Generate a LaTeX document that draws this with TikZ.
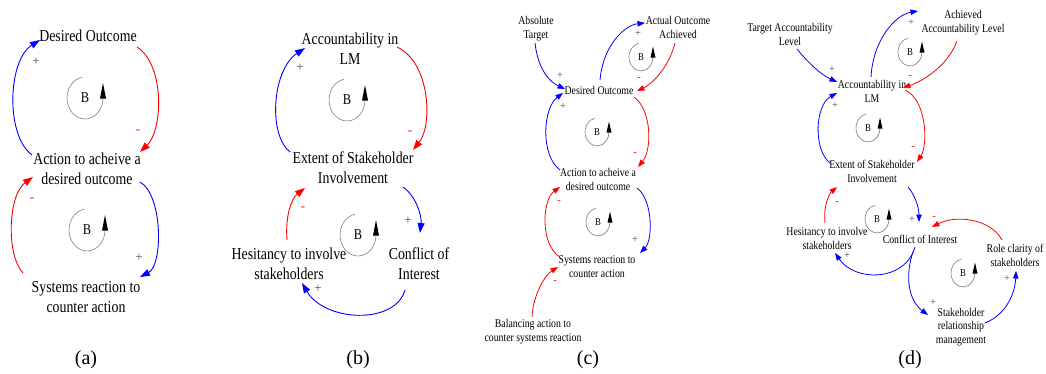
\documentclass[tikz,border=0pt]{standalone}
\usepackage{fontspec}
\usepackage{graphicx}
\setmainfont{Liberation Serif}
\usetikzlibrary{arrows.meta,calc}
\newcommand{\sq}[1]{\scalebox{0.83}[1]{\begin{tabular}{@{}c@{}}#1\end{tabular}}}
\newcommand{\sqs}[1]{\scalebox{0.83}[1]{#1}}
\tikzset{
 lbl/.style={font=\fontsize{16.7}{20}\selectfont, inner sep=0pt},
 lbs/.style={font=\fontsize{11.8}{13.5}\selectfont, inner sep=0pt},
 parr/.style={blue, line width=0.9pt, -{Triangle[length=10pt,width=7pt]}},
 narr/.style={red, line width=0.9pt, -{Triangle[length=10pt,width=7pt]}},
 parrs/.style={blue, line width=0.8pt, -{Triangle[length=7.5pt,width=5.5pt]}},
 narrs/.style={red, line width=0.8pt, -{Triangle[length=7.5pt,width=5.5pt]}},
 sp/.style={inner sep=0pt, text=black!70, font=\fontsize{13}{13}\selectfont},
 sn/.style={inner sep=0pt, text=red, font=\fontsize{13}{13}\selectfont},
 sps/.style={inner sep=0pt, text=black!70, font=\fontsize{10.5}{10.5}\selectfont},
 sns/.style={inner sep=0pt, text=red, font=\fontsize{10.5}{10.5}\selectfont},
 loopc/.style={gray, line width=0.6pt},
 bbig/.style={inner sep=0pt, font=\fontsize{15}{15}\selectfont},
 bsmall/.style={inner sep=0pt, font=\fontsize{10.5}{10.5}\selectfont},
 panel/.style={inner sep=0pt, font=\fontsize{20}{20}\selectfont}
}
\newcommand{\bigloop}[3]{%
 \node[bbig] (#1) at (#2,#3) {\sqs{B}};
 \draw[loopc] ($(#1)+(-3.1,-20.7)$) arc[start angle=-100,end angle=-360,x radius=18,y radius=21];
 \fill ($(#1)+(15,0.5)$) -- ($(#1)+(21,0.5)$) -- ($(#1)+(18,-15)$) -- cycle;}
\newcommand{\smallloop}[3]{%
 \node[bsmall] (#1) at (#2,#3) {\sqs{B}};
 \draw[loopc] ($(#1)+(-2.1,-13.8)$) arc[start angle=-100,end angle=-360,x radius=12,y radius=14];
 \fill ($(#1)+(9.5,0.5)$) -- ($(#1)+(14.5,0.5)$) -- ($(#1)+(12,-10.5)$) -- cycle;}
\begin{document}
\begin{tikzpicture}[x=1pt,y=-1pt]
\fill[white] (0,0) rectangle (1046,373);
\useasboundingbox (0,0) rectangle (1046,373);

% ---------------- (a)
\node[lbl] (aDO) at (88,36) {\sqs{Desired Outcome}};
\node[lbl] (aAct) at (87,170) {\sq{Action to acheive a\\desired outcome}};
\node[lbl] (aSys) at (86,298) {\sq{Systems reaction to\\counter action}};
\bigloop{aB1}{85}{98}
\bigloop{aB2}{87}{230}
\draw[parr] ($(aAct)+(-55,-15)$) .. controls (5,135) and (8,60) .. ($(aDO)+(-48,4)$);
\draw[narr] ($(aDO)+(49,11)$) .. controls (165,65) and (163,130) .. ($(aAct)+(53,-18)$);
\draw[narr] ($(aSys)+(-63,-25)$) .. controls (6,255) and (8,195) .. ($(aAct)+(-54,7)$);
\draw[parr] ($(aAct)+(53,12)$) .. controls (163,195) and (163,265) .. ($(aSys)+(54,-21)$);
\node[sp] (ap1) at (36,62) {+};
\node[sn] (an1) at (138,132) {-};
\node[sn] (an2) at (32,200) {-};
\node[sp] (ap2) at (139,258) {+};
\node[panel] (capa) at (86,360) {(a)};

% ---------------- (b)
\node[lbl] (bAcc) at (350,50) {\sq{Accountability in\\LM}};
\node[lbl] (bExt) at (353,169) {\sq{Extent of Stakeholder\\Involvement}};
\node[lbl] (bHes) at (289,265) {\sq{Hesitancy to involve\\stakeholders}};
\node[lbl] (bCon) at (419,265) {\sq{Conflict of\\Interest}};
\bigloop{bB1}{347}{100}
\bigloop{bB2}{358}{235}
\draw[parr] ($(bExt)+(-63,-17)$) .. controls (268,135) and (272,70) .. ($(bAcc)+(-45,-2)$);
\draw[narr] ($(bAcc)+(47,-3)$) .. controls (430,62) and (433,125) .. ($(bExt)+(60,-19)$);
\draw[parr] ($(bExt)+(50,18)$) .. controls (415,195) and (422,215) .. ($(bCon)+(1,-32)$);
\draw[parr] ($(bCon)+(-14,25)$) .. controls (395,325) and (325,322) .. ($(bHes)+(13,18)$);
\draw[narr] ($(bHes)+(-2,-25)$) .. controls (285,215) and (292,198) .. ($(bExt)+(-48,19)$);
\node[sp] (bp1) at (300,68) {+};
\node[sn] (bn1) at (410,133) {-};
\node[sp] (bp2) at (408,221) {+};
\node[sp] (bp3) at (318,289) {+};
\node[sn] (bn2) at (303,209) {-};
\node[panel] (capb) at (358,360) {(b)};

% ---------------- (c)
\node[lbs] (cAbs) at (536,29) {\sq{Absolute\\Target}};
\node[lbs] (cAch) at (678,29) {\sq{Actual Outcome\\Achieved}};
\node[lbs] (cDes) at (599,90) {\sqs{Desired Outcome}};
\node[lbs] (cAct) at (598,181) {\sq{Action to acheive a\\desired outcome}};
\node[lbs] (cSys) at (597,268) {\sq{Systems reaction to\\counter action}};
\node[lbs] (cBal) at (533,332) {\sq{Balancing action to\\counter systems reaction}};
\smallloop{cB0}{641}{57}
\smallloop{cB1}{597}{132}
\smallloop{cB2}{598}{222}
\draw[parrs] ($(cAbs)+(-1,14)$) .. controls (538,70) and (550,82) .. ($(cDes)+(-34,-1)$);
\draw[parrs] ($(cDes)+(1,-10)$) .. controls (603,45) and (625,25) .. ($(cAch)+(-33,-6)$);
\draw[narrs] ($(cAch)+(-3,14)$) .. controls (668,70) and (650,85) .. ($(cDes)+(38,1)$);
\draw[narrs] ($(cDes)+(35,7)$) .. controls (652,110) and (652,150) .. ($(cAct)+(40,-14)$);
\draw[parrs] ($(cAct)+(-38,-11)$) .. controls (540,155) and (543,108) .. ($(cDes)+(-36,3)$);
\draw[parrs] ($(cAct)+(39,7)$) .. controls (653,200) and (653,240) .. ($(cSys)+(43,-15)$);
\draw[narrs] ($(cSys)+(-37,-11)$) .. controls (540,245) and (542,200) .. ($(cAct)+(-38,6)$);
\draw[narrs] ($(cBal)+(-1,-15)$) .. controls (533,295) and (545,275) .. ($(cSys)+(-39,-1)$);
\node[sps] (cp1) at (560,76) {+};
\node[sps] (cp2) at (638,34) {+};
\node[sns] (cn1) at (639,79) {-};
\node[sns] (cn2) at (635,154) {-};
\node[sps] (cp3) at (563,107) {+};
\node[sps] (cp4) at (635,240) {+};
\node[sns] (cn3) at (559,202) {-};
\node[sns] (cn4) at (555,282) {-};
\node[panel] (capc) at (588,360) {(c)};

% ---------------- (d)
\node[lbs] (dTar) at (790,36) {\sq{Target Accountability\\Level}};
\node[lbs] (dAch) at (963,23) {\sq{Achieved\\Accountability Level}};
\node[lbs] (dAcc) at (872,93) {\sq{Accountability in\\LM}};
\node[lbs] (dExt) at (872,173) {\sq{Extent of Stakeholder\\Involvement}};
\node[lbs] (dHes) at (827,240) {\sq{Hesitancy to involve\\stakeholders}};
\node[lbs] (dCon) at (920,239) {\sqs{Conflict of Interest}};
\node[lbs] (dRol) at (1015,257) {\sq{Role clarity of\\stakeholders}};
\node[lbs] (dSrm) at (961,327) {\sq{Stakeholder\\relationship\\management}};
\smallloop{dB0}{910}{52}
\smallloop{dB1}{868}{128}
\smallloop{dB2}{877}{219}
\smallloop{dB3}{963}{273}
\draw[parrs] ($(dTar)+(7,13)$) .. controls (810,65) and (822,75) .. ($(dAcc)+(-35,-11)$);
\draw[parrs] ($(dAcc)+(-1,-16)$) .. controls (873,40) and (895,15) .. ($(dAch)+(-45,-12)$);
\draw[narrs] ($(dAch)+(-6,18)$) .. controls (948,65) and (925,80) .. ($(dAcc)+(31,-5)$);
\draw[narrs] ($(dAcc)+(33,-3)$) .. controls (927,100) and (928,145) .. ($(dExt)+(45,-11)$);
\draw[parrs] ($(dExt)+(-42,-10)$) .. controls (813,150) and (815,105) .. ($(dAcc)+(-35,0)$);
\draw[parrs] ($(dExt)+(36,14)$) .. controls (915,195) and (919,208) .. ($(dCon)+(-1,-17)$);
\draw[narrs] ($(dHes)+(-2,-17)$) .. controls (823,205) and (830,193) .. ($(dExt)+(-35,14)$);
\draw[parrs] ($(dCon)+(-5,8)$) .. controls (905,282) and (855,282) .. ($(dHes)+(8,13)$);
\draw[parrs] ($(dCon)+(-7,13)$) .. controls (905,275) and (908,300) .. ($(dSrm)+(-33,-12)$);
\draw[parrs] ($(dSrm)+(24,-4)$) .. controls (1005,315) and (1015,295) .. ($(dRol)+(1,14)$);
\draw[narrs] ($(dRol)+(-13,-17)$) .. controls (990,218) and (955,215) .. ($(dCon)+(12,-12)$);
\node[sps] (dp1) at (832,70) {+};
\node[sps] (dp2) at (911,23) {+};
\node[sns] (dn1) at (910,77) {-};
\node[sns] (dn2) at (913,148) {-};
\node[sps] (dp3) at (835,106) {+};
\node[sps] (dp4) at (912,220) {+};
\node[sns] (dn3) at (837,203) {-};
\node[sps] (dp5) at (847,256) {+};
\node[sps] (dp6) at (933,303) {+};
\node[sps] (dp7) at (1007,279) {+};
\node[sns] (dn4) at (934,218) {-};
\node[panel] (capd) at (910,360) {(d)};
\end{tikzpicture}
\end{document}
